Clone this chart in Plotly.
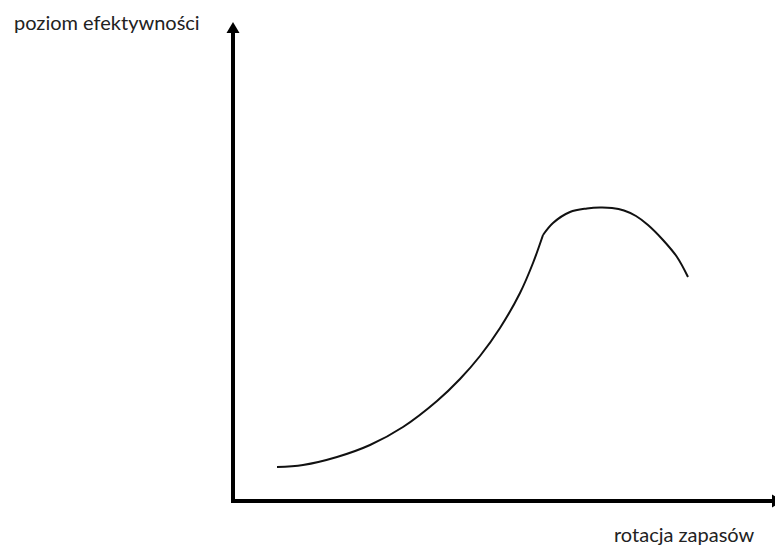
import plotly.graph_objects as go

# Curve values (arbitrary units): rising part and peak/decline part
rise_x = [44, 70, 104, 137, 170, 204, 227, 247, 267, 287, 300, 310]
rise_y = [34, 36, 44, 56, 74, 100, 122, 145, 173, 208, 238, 266]
peak_x = [310, 320, 337, 354, 367, 379, 391, 403, 415, 430, 444, 455]
peak_y = [266, 278, 289, 292.5, 293.5, 293, 290.5, 285, 276, 261, 244, 224]

y_label = "poziom efektywności"
x_label = "rotacja zapasów"

fig = go.Figure()
for xs, ys in [(rise_x, rise_y), (peak_x, peak_y)]:
    fig.add_trace(go.Scatter(x=xs, y=ys, mode="lines",
                             line=dict(color="#111111", width=2, shape="spline", smoothing=1),
                             hoverinfo="skip", showlegend=False))

# axes lines
fig.add_shape(type="line", x0=0, y0=0, x1=0, y1=471, line=dict(color="black", width=4), layer="above")
fig.add_shape(type="line", x0=-2, y0=0, x1=542, y1=0, line=dict(color="black", width=4), layer="above")
# arrowheads
fig.add_shape(type="path", path="M -6.5 468 L 0 479 L 6.5 468 Z", fillcolor="black",
              line=dict(color="black", width=0), layer="above")
fig.add_shape(type="path", path="M 539 -6.5 L 550 0 L 539 6.5 Z", fillcolor="black",
              line=dict(color="black", width=0), layer="above")

font = dict(family="Lato, Calibri, sans-serif", size=20, color="#222222")
fig.add_annotation(x=-0.377, y=0.999, xref="paper", yref="paper", text=y_label, showarrow=False,
                   xanchor="left", yanchor="middle", font=font)
fig.add_annotation(x=0.695, y=-0.047, xref="paper", yref="paper", text=x_label, showarrow=False,
                   xanchor="left", yanchor="middle", font=font)

fig.update_layout(
    width=775, height=537,
    margin=dict(l=215, r=0, t=14, b=34),
    paper_bgcolor="white", plot_bgcolor="white",
    xaxis=dict(range=[-10, 550], visible=False, fixedrange=True),
    yaxis=dict(range=[-10, 479], visible=False, fixedrange=True),
    showlegend=False,
)
fig.write_html("out.html")
